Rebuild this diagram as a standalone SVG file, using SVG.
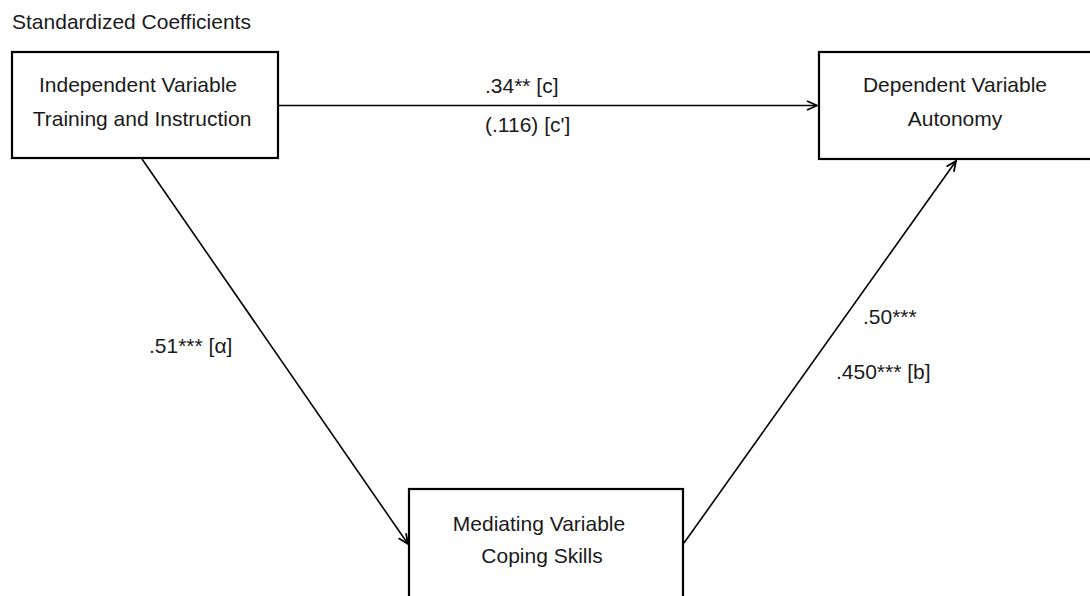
<svg xmlns="http://www.w3.org/2000/svg" width="1090" height="596" viewBox="0 0 1090 596">
<style>
.box{fill:#fff;stroke:#000;stroke-width:2.2}
.t{font-family:"Liberation Sans",Arial,sans-serif;font-size:21px;fill:#1a1a1a}
.c{text-anchor:middle}
.ln{stroke:#000;stroke-width:1.6;fill:none}
</style>
<defs>
<marker id="ah" viewBox="0 0 12 12" refX="11" refY="6" markerWidth="12" markerHeight="12" markerUnits="userSpaceOnUse" orient="auto">
<path d="M1,1.5 L11,6 L1,10.5" fill="none" stroke="#000" stroke-width="1.8"/>
</marker>
</defs>
<rect width="1090" height="596" fill="#fff"/>
<text class="t" x="12" y="29">Standardized Coefficients</text>
<g id="connectors">
<line class="ln" x1="279" y1="105.5" x2="817" y2="105.5" marker-end="url(#ah)"/>
<line class="ln" x1="142" y1="159" x2="408" y2="544" marker-end="url(#ah)"/>
<line class="ln" x1="684" y1="543" x2="956" y2="161" marker-end="url(#ah)"/>
<text class="t" x="485" y="93">.34** [c]</text>
<text class="t" x="485" y="132">(.116) [c']</text>
<text class="t" x="149" y="353">.51*** [α]</text>
<text class="t" x="863" y="324">.50***</text>
<text class="t" x="836" y="379">.450*** [b]</text>
</g>
<g id="independent">
<rect class="box" x="12" y="52" width="266" height="106"/>
<text class="t c" x="138" y="92">Independent Variable</text>
<text class="t c" x="142" y="126">Training and Instruction</text>
</g>
<g id="dependent">
<rect class="box" x="819" y="52" width="275" height="107"/>
<text class="t c" x="955" y="92">Dependent Variable</text>
<text class="t c" x="955" y="126">Autonomy</text>
</g>
<g id="mediating">
<rect class="box" x="409" y="489" width="274" height="120"/>
<text class="t c" x="539" y="531">Mediating Variable</text>
<text class="t c" x="542" y="563">Coping Skills</text>
</g>
</svg>
